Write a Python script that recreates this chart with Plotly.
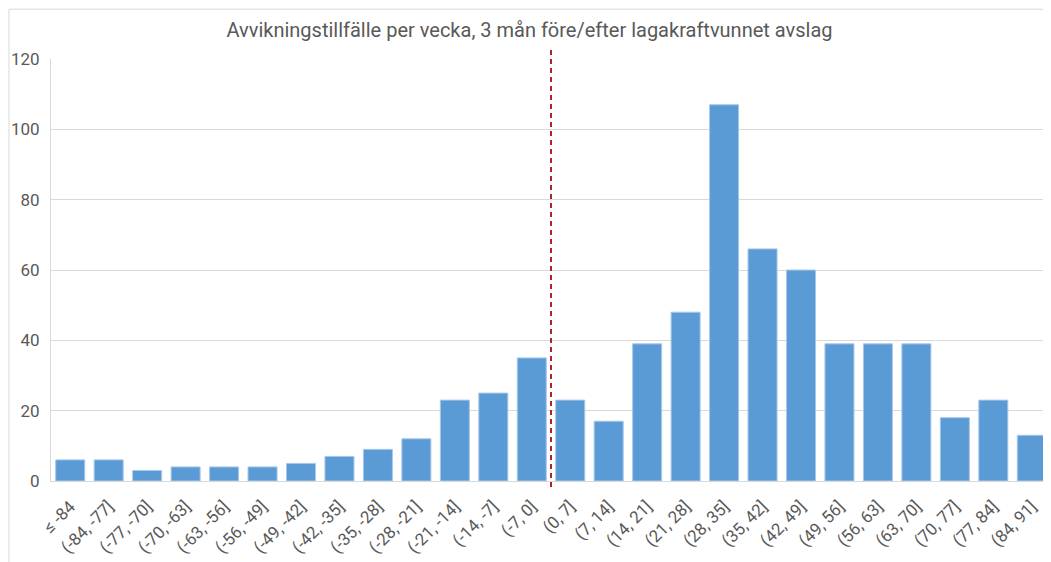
import plotly.graph_objects as go

categories = ["≤ -84", "(-84, -77]", "(-77, -70]", "(-70, -63]", "(-63, -56]", "(-56, -49]",
              "(-49, -42]", "(-42, -35]", "(-35, -28]", "(-28, -21]", "(-21, -14]", "(-14, -7]",
              "(-7, 0]", "(0, 7]", "(7, 14]", "(14, 21]", "(21, 28]", "(28, 35]", "(35, 42]",
              "(42, 49]", "(49, 56]", "(56, 63]", "(63, 70]", "(70, 77]", "(77, 84]", "(84, 91]"]
values = [6, 6, 3, 4, 4, 4, 5, 7, 9, 12, 23, 25, 35, 23, 17, 39, 48, 107, 66, 60, 39, 39, 39, 18, 23, 13]
y_ticks = [0, 20, 40, 60, 80, 100, 120]
title = "Avvikningstillfälle per vecka, 3 mån före/efter lagakraftvunnet avslag"
cutoff_position = 12.5

FONT = "Roboto, sans-serif"

# page body has an 8px default margin, so the figure is sized to fit inside the window
W, H = 1043, 554

fig = go.Figure()
fig.add_trace(go.Bar(
    x=list(range(len(categories))), y=values,
    marker=dict(color="#5B9BD5", line=dict(color="#A9C8EA", width=1)),
))

fig.add_shape(type="line", xref="x", yref="paper",
              x0=cutoff_position, x1=cutoff_position, y0=-0.014, y1=1.0225,
              line=dict(color="#B0232A", width=2, dash="5px,4px"))
fig.add_shape(type="rect", xref="paper", yref="paper",
              x0=-0.042, x1=1.02, y0=-0.3, y1=1.118,
              line=dict(color="#D9D9D9", width=1), layer="below")

fig.update_layout(
    width=W, height=H,
    margin=dict(l=43, r=0, t=51, b=81, autoexpand=False),
    paper_bgcolor="white", plot_bgcolor="white",
    bargap=0.245,
    showlegend=False,
    title=dict(text=title, x=0.5, xanchor="center", y=1 - 22 / H, yanchor="middle",
               font=dict(family=FONT, size=20, color="#595959")),
    font=dict(family=FONT, color="#595959"),
)
fig.update_xaxes(
    tickmode="array", tickvals=list(range(len(categories))), ticktext=categories,
    tickangle=-45, tickfont=dict(size=17, color="#595959"),
    range=[-0.5, len(categories) - 0.5], automargin=False,
    showline=True, linecolor="#D9D9D9", linewidth=1, ticks="", showgrid=False, zeroline=False,
    ticklabelstandoff=8,
)
fig.update_yaxes(
    range=[0, 120], tickmode="array", tickvals=y_ticks, automargin=False,
    tickfont=dict(size=17, color="#595959"),
    showgrid=True, gridcolor="#D9D9D9", gridwidth=1,
    showline=True, linecolor="#D9D9D9", linewidth=1, ticks="", zeroline=False,
    ticklabelstandoff=7,
)

fig.write_html("out.html")
